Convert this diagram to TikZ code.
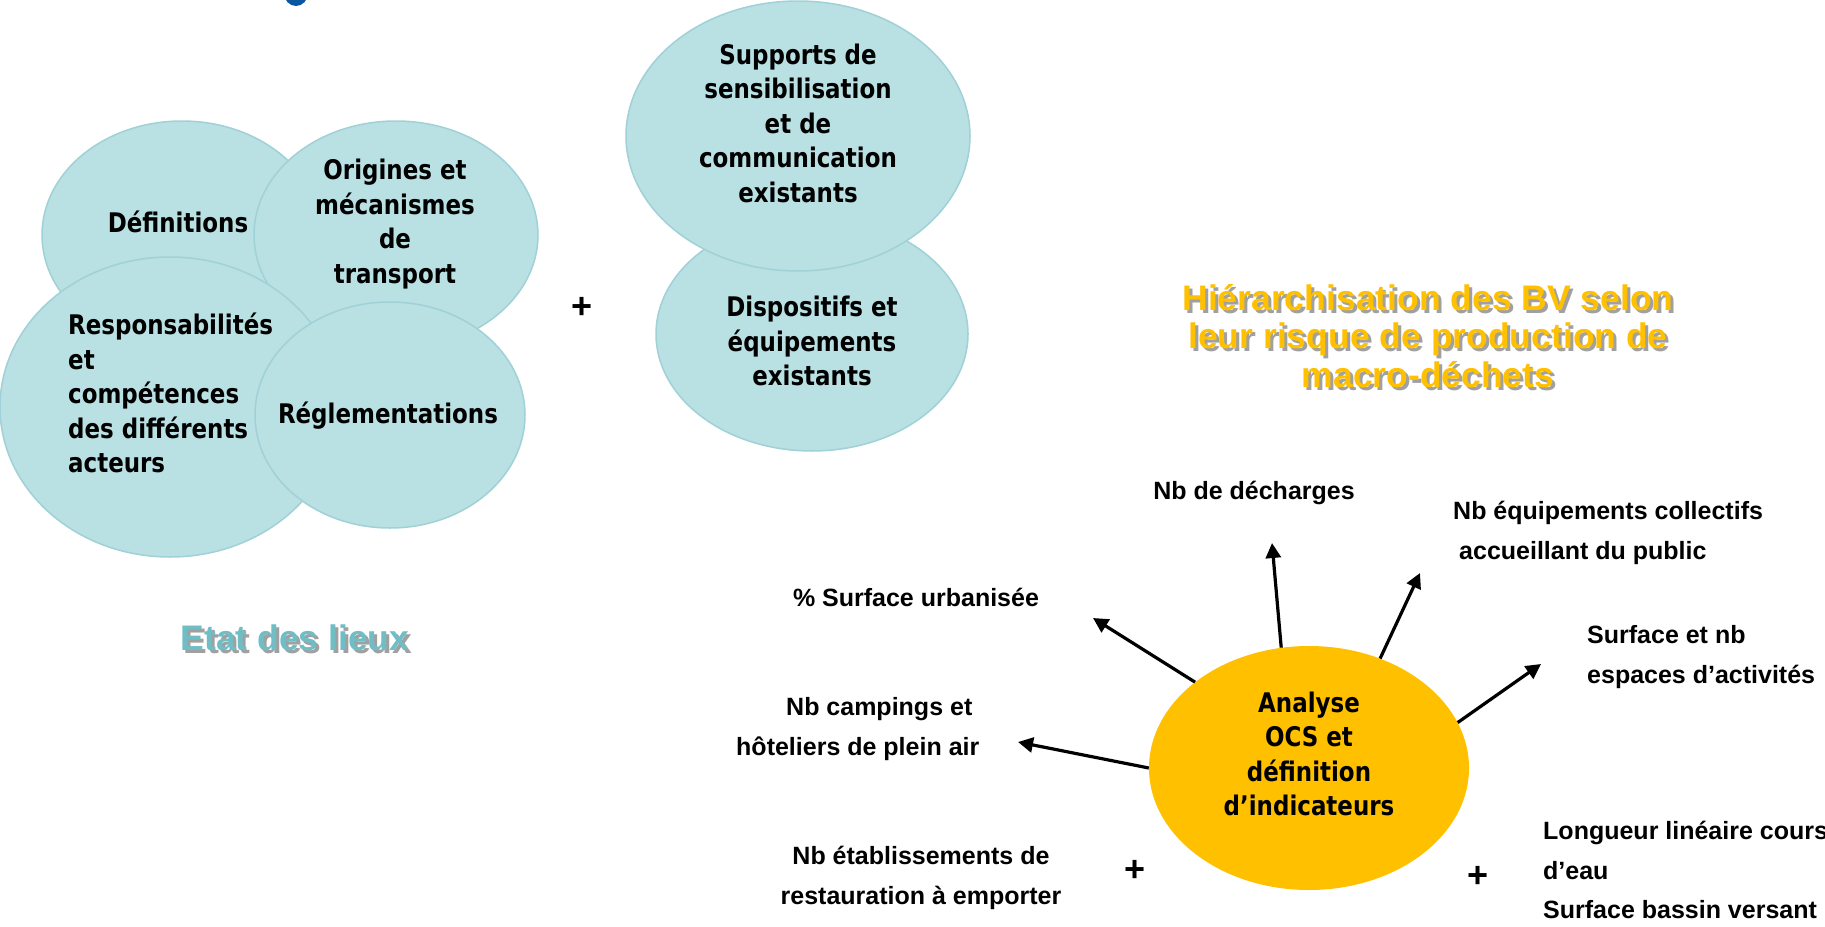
\documentclass[tikz,border=0pt]{standalone}
\usepackage{fontspec}
\newfontfamily\tah{DejaVu Sans}[FakeStretch=0.85]
\newfontfamily\ari{Liberation Sans}
\usetikzlibrary{shapes.geometric,arrows.meta}
\definecolor{bubfill}{RGB}{185,224,227}
\definecolor{bubline}{RGB}{160,209,215}
\definecolor{ocsfill}{RGB}{255,192,0}
\definecolor{titleteal}{RGB}{111,190,198}
\definecolor{titleorange}{RGB}{255,192,0}
\definecolor{fragblue}{RGB}{10,86,160}
\definecolor{shadowgray}{RGB}{160,160,160}
\begin{document}
\begin{tikzpicture}[x=1pt,y=-1pt,
  bub/.style={ellipse, draw=bubline, line width=1.5pt, fill=bubfill, inner sep=0pt},
  ocsbub/.style={ellipse, draw=none, fill=ocsfill, inner sep=0pt},
  btext/.style={font=\tah\bfseries\fontsize{27}{34.5}\selectfont, inner sep=0pt, align=center, text=black},
  lab/.style={font=\ari\bfseries\fontsize{25}{39.5}\selectfont, inner sep=0pt, text=black},
  plus/.style={font=\ari\bfseries\fontsize{36}{40}\selectfont, inner sep=0pt, text=black},
  ttl/.style={font=\ari\bfseries\fontsize{35.5}{38.5}\selectfont, inner sep=0pt, align=center},
  arr/.style={line width=3.2pt, draw=black, -{Triangle[length=15pt,width=15pt]}}
]
\useasboundingbox (0,0) rectangle (1825,926);
\fill[white] (0,0) rectangle (1825,926);

% fragment of a cut-off title letter at the top
\fill[fragblue] (296,-7) ellipse [x radius=12, y radius=13];

% left cluster
\node[bub, minimum width=280pt, minimum height=228pt] (def) at (182,235) {};
\node[bub, minimum width=284pt, minimum height=228pt] (ori) at (396,235) {};
\node[bub, minimum width=340pt, minimum height=300pt] (resp) at (170,407) {};
\node[bub, minimum width=270pt, minimum height=226pt] (regl) at (390,415) {};

\node[btext] (def-t) at (178,222) {Définitions};
\node[btext] (ori-t) at (395,224) {Origines et\\mécanismes\\de\\transport};
\node[btext, align=left, anchor=west] (resp-t) at (68,393) {Responsabilités\\et\\compétences\\des différents\\acteurs};
\node[btext] (regl-t) at (388,416) {Réglementations};

\node[plus] (plus1) at (582,308) {+};

% right cluster
\node[bub, minimum width=312pt, minimum height=234pt] (disp) at (812,334) {};
\node[bub, minimum width=344pt, minimum height=270pt] (supp) at (798,136) {};
\node[btext] (supp-t) at (798,123) {Supports de\\sensibilisation\\et de\\communication\\existants};
\node[btext] (disp-t) at (812,341) {Dispositifs et\\équipements\\existants};

% titles with shadow
\node[ttl, text=shadowgray] (etat-s) at (298,641) {Etat des lieux};
\node[ttl, text=titleteal] (etat) at (295,638) {Etat des lieux};
\node[ttl, text=shadowgray] (hier-s) at (1431,339) {Hiérarchisation des BV selon\\leur risque de production de\\macro-déchets};
\node[ttl, text=titleorange] (hier) at (1428,336) {Hiérarchisation des BV selon\\leur risque de production de\\macro-déchets};

% OCS analysis
\node[ocsbub, minimum width=320pt, minimum height=244pt] (ocs) at (1309,768) {};
\node[btext] (ocs-t) at (1309,754) {Analyse\\OCS et\\définition\\d’indicateurs};

% indicator labels
\node[lab] (dech) at (1254,493) {Nb de décharges};
\node[lab, align=left, anchor=west] (equip) at (1453,533) {Nb équipements collectifs\\\hspace*{6pt}accueillant du public};
\node[lab] (surf) at (916,597) {\% Surface urbanisée};
\node[lab, align=left, anchor=west] (act) at (1587,657) {Surface et nb\\espaces d’activités};
\node[lab, align=left, anchor=west] (camp) at (736,729) {\hspace*{50pt}Nb campings et\\hôteliers de plein air};
\node[lab, align=center] (resto) at (921,878) {Nb établissements de\\restauration à emporter};
\node[lab, align=left, anchor=west] (eau) at (1543,870) {Longueur linéaire cours\\d’eau\\Surface bassin versant};

\node[plus] (plus2) at (1135,871) {+};
\node[plus] (plus3) at (1478,877) {+};

% arrow tips
\coordinate (t-dech) at (1272,543);
\coordinate (t-equip) at (1420,573);
\coordinate (t-surf) at (1093,618);
\coordinate (t-act) at (1541,664);
\coordinate (t-camp) at (1018,742);

\draw[arr] (ocs.103) -- (t-dech);
\draw[arr] (ocs.57) -- (t-equip);
\draw[arr] (ocs.143) -- (t-surf);
\draw[arr] (ocs.17) -- (t-act);
\draw[arr] (ocs.180) -- (t-camp);
\end{tikzpicture}
\end{document}
